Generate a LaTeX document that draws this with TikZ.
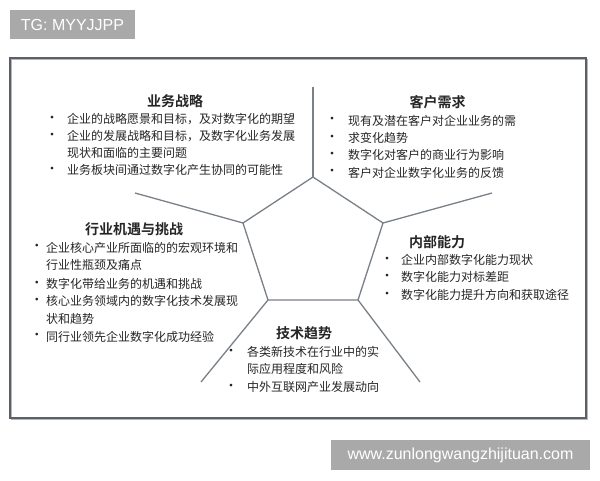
\documentclass[tikz,border=0pt]{standalone}
\usepackage{fontspec}
\setmainfont{Noto Sans CJK SC}[BoldFont={Noto Sans CJK SC Bold}]
\newfontfamily\latinfont{Liberation Sans}
\definecolor{txt}{HTML}{262626}
\definecolor{linec}{HTML}{7A8088}
\definecolor{framec}{HTML}{5A6066}
\definecolor{tagc}{HTML}{A9A9A9}
\begin{document}
\begin{tikzpicture}[x=1pt,y=-1pt,
  ttl/.style={inner sep=0, text=txt, font=\bfseries\fontsize{14}{14}\selectfont},
  ln/.style={inner sep=0, anchor=west, text=txt, font=\fontsize{12}{12}\selectfont},
  bul/.style={inner sep=0, anchor=center, text=txt, font=\fontsize{13}{13}\selectfont},
  edge/.style={draw=linec, line width=1.3pt, line join=round},
  tag/.style={fill=tagc, text=white, inner sep=0, font=\latinfont\fontsize{16}{16}\selectfont}
]
\useasboundingbox (0,0) rectangle (600,480);
\fill[white] (0,0) rectangle (600,480);

% tags
\node[tag, minimum width=125pt, minimum height=29pt] (tg) at (72.5,24.5) {TG: MYYJJPP};
\node[tag, minimum width=259pt, minimum height=30pt] (web) at (460.5,455) {www.zunlongwangzhijituan.com};

% frame
\draw[framec!45, line width=1pt] (11.5,59.5) rectangle (587.5,419.5);
\node[draw=framec, line width=1.3pt, minimum width=576pt, minimum height=360pt, inner sep=0] (frame) at (298,238) {};

% pentagon vertices and spoke ends
\coordinate (T) at (313,177);
\coordinate (R) at (383,223);
\coordinate (BR) at (358,300);
\coordinate (BL) at (268,300);
\coordinate (L) at (243,223);
\coordinate (eT) at (313,87);
\coordinate (eR) at (492,193);
\coordinate (eBR) at (420,382);
\coordinate (eBL) at (201,382);
\coordinate (eL) at (135,193);

\draw[edge] (T) -- (R) -- (BR) -- (BL) -- (L) -- cycle;
\draw[edge] (T) -- (eT);
\draw[edge] (R) -- (eR);
\draw[edge] (BR) -- (eBR);
\draw[edge] (BL) -- (eBL);
\draw[edge] (L) -- (eL);

% 业务战略
\node[ttl] (t1) at (175,101) {业务战略};
\node[bul] (b11) at (52,119.3) {•};
\node[ln] (l11) at (67,119.3) {企业的战略愿景和目标，及对数字化的期望};
\node[bul] (b12) at (52,136) {•};
\node[ln] (l12) at (67,136) {企业的发展战略和目标，及数字化业务发展};
\node[ln] (l13) at (67,152.7) {现状和面临的主要问题};
\node[bul] (b14) at (52,170) {•};
\node[ln] (l14) at (67,170) {业务板块间通过数字化产生协同的可能性};

% 客户需求
\node[ttl] (t2) at (437.5,101.7) {客户需求};
\node[bul] (b21) at (332,120.7) {•};
\node[ln] (l21) at (348,120.7) {现有及潜在客户对企业业务的需};
\node[bul] (b22) at (332,138) {•};
\node[ln] (l22) at (348,138) {求变化趋势};
\node[bul] (b23) at (332,155) {•};
\node[ln] (l23) at (348,155) {数字化对客户的商业行为影响};
\node[bul] (b24) at (332,172.7) {•};
\node[ln] (l24) at (348,172.7) {客户对企业数字化业务的反馈};

% 行业机遇与挑战
\node[ttl] (t3) at (134,229) {行业机遇与挑战};
\node[bul] (b31) at (37,247.7) {•};
\node[ln] (l31) at (46,247.7) {企业核心产业所面临的的宏观环境和};
\node[ln] (l32) at (46,265) {行业性瓶颈及痛点};
\node[bul] (b33) at (37,284) {•};
\node[ln] (l33) at (46,284) {数字化带给业务的机遇和挑战};
\node[bul] (b34) at (37,301) {•};
\node[ln] (l34) at (46,301) {核心业务领域内的数字化技术发展现};
\node[ln] (l35) at (46,319) {状和趋势};
\node[bul] (b36) at (37,336.7) {•};
\node[ln] (l36) at (46,336.7) {同行业领先企业数字化成功经验};

% 内部能力
\node[ttl] (t4) at (437,241.7) {内部能力};
\node[bul] (b41) at (387,260) {•};
\node[ln] (l41) at (401,260) {企业内部数字化能力现状};
\node[bul] (b42) at (387,277.3) {•};
\node[ln] (l42) at (401,277.3) {数字化能力对标差距};
\node[bul] (b43) at (387,295) {•};
\node[ln] (l43) at (401,295) {数字化能力提升方向和获取途径};

% 技术趋势
\node[ttl] (t5) at (304,333) {技术趋势};
\node[bul] (b51) at (231,352) {•};
\node[ln] (l51) at (247,352) {各类新技术在行业中的实};
\node[ln] (l52) at (247,369) {际应用程度和风险};
\node[bul] (b53) at (231,387) {•};
\node[ln] (l53) at (247,387) {中外互联网产业发展动向};
\end{tikzpicture}
\end{document}
